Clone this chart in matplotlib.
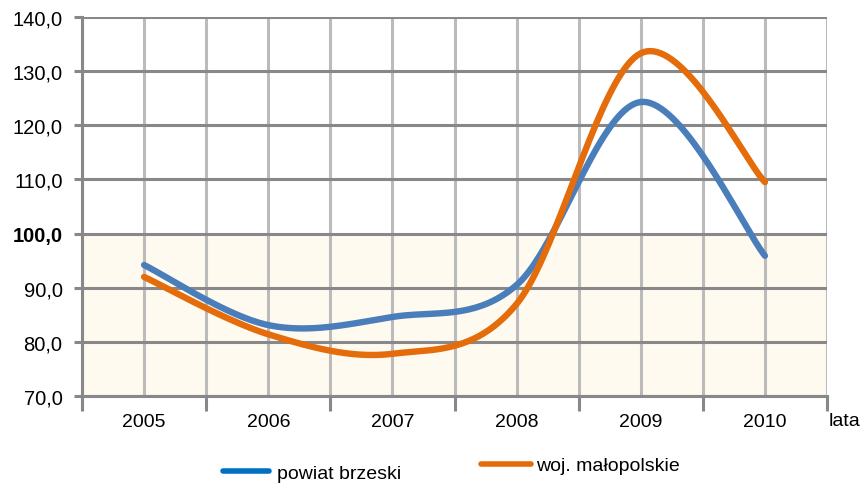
import numpy as np
import matplotlib
matplotlib.use("Agg")
import matplotlib.pyplot as plt
from matplotlib.lines import Line2D

plt.rcParams['font.family'] = ['Liberation Sans', 'DejaVu Sans']

years = ['2005', '2006', '2007', '2008', '2009', '2010']
powiat = [94.2, 83.1, 84.6, 90.5, 124.3, 95.9]
wojewodztwo = [92.0, 81.4, 77.8, 87.0, 133.3, 109.5]
y_ticks = [70, 80, 90, 100, 110, 120, 130, 140]


def smooth(xs, ys, n=40):
    # Bezier smoothing similar to spreadsheet "smoothed line"
    xs = np.asarray(xs, float)
    ys = np.asarray(ys, float)
    px = np.concatenate([[xs[0]], xs, [xs[-1]]])
    py = np.concatenate([[ys[0]], ys, [ys[-1]]])
    out_x, out_y = [], []
    t = np.linspace(0, 1, n)
    for i in range(1, len(px) - 2):
        p0 = np.array([px[i], py[i]])
        p3 = np.array([px[i + 1], py[i + 1]])
        c1 = p0 + (p3 - np.array([px[i - 1], py[i - 1]])) / 6
        c2 = p3 - (np.array([px[i + 2], py[i + 2]]) - p0) / 6
        b = ((1 - t) ** 3)[:, None] * p0 + (3 * (1 - t) ** 2 * t)[:, None] * c1 \
            + (3 * (1 - t) * t ** 2)[:, None] * c2 + (t ** 3)[:, None] * p3
        out_x.extend(b[:, 0])
        out_y.extend(b[:, 1])
    return out_x, out_y


fig = plt.figure(figsize=(8.66, 4.85), dpi=100)
ax = fig.add_axes([0.0947, 0.1814, 0.8603, 0.7815])

x = np.arange(len(years))
ax.set_xlim(-0.5, len(years) - 0.5)
ax.set_ylim(70, 140)

ax.axhspan(70, 100, color='#FEFAF0', zorder=0)

# grid
for gx in np.arange(-0.5, len(years), 0.5):
    ax.axvline(gx, color='#BBBBBB', lw=2.2, zorder=1)
for gy in y_ticks:
    ax.axhline(gy, color='#888888', lw=2.2, zorder=1.5)

bx, by = smooth(x, powiat)
ox, oy = smooth(x, wojewodztwo)
ax.plot(bx, by, color='#4A7EBB', lw=4.6, solid_capstyle='round', zorder=3)
ax.plot(ox, oy, color='#E46C0A', lw=4.6, solid_capstyle='round', zorder=4)

for s in ['top', 'right']:
    ax.spines[s].set_visible(False)
ax.spines['left'].set_color('#888888')
ax.spines['left'].set_linewidth(2.2)
ax.spines['bottom'].set_color('#888888')
ax.spines['bottom'].set_linewidth(2.2)

ax.set_yticks(y_ticks)
ax.set_yticklabels([f"{v:.1f}".replace('.', ',') for v in y_ticks], fontsize=14.5)
ax.get_yticklabels()[3].set_fontweight('bold')
ax.tick_params(axis='y', direction='out', length=6, width=2.2, color='#888888', pad=8)

ax.set_xticks(np.arange(-0.5, len(years), 1.0))
ax.set_xticklabels([])
ax.set_xticks(x, minor=True)
ax.set_xticklabels(years, minor=True, fontsize=14)
ax.tick_params(axis='x', which='major', direction='out', length=11, width=2.2, color='#888888')
ax.tick_params(axis='x', which='minor', length=0, pad=12)

fig.text(0.957, 0.131, 'lata', fontsize=14, ha='left', va='center')

# legend
fig.add_artist(Line2D([0.258, 0.311], [0.026, 0.026], color='#0070C0', lw=4, solid_capstyle='round'))
fig.text(0.320, 0.022, 'powiat brzeski', fontsize=14, ha='left', va='center')
fig.add_artist(Line2D([0.556, 0.613], [0.041, 0.041], color='#E36C09', lw=4, solid_capstyle='round'))
fig.text(0.619, 0.039, 'woj. małopolskie', fontsize=14, ha='left', va='center')

fig.savefig('out.png', dpi=100)
